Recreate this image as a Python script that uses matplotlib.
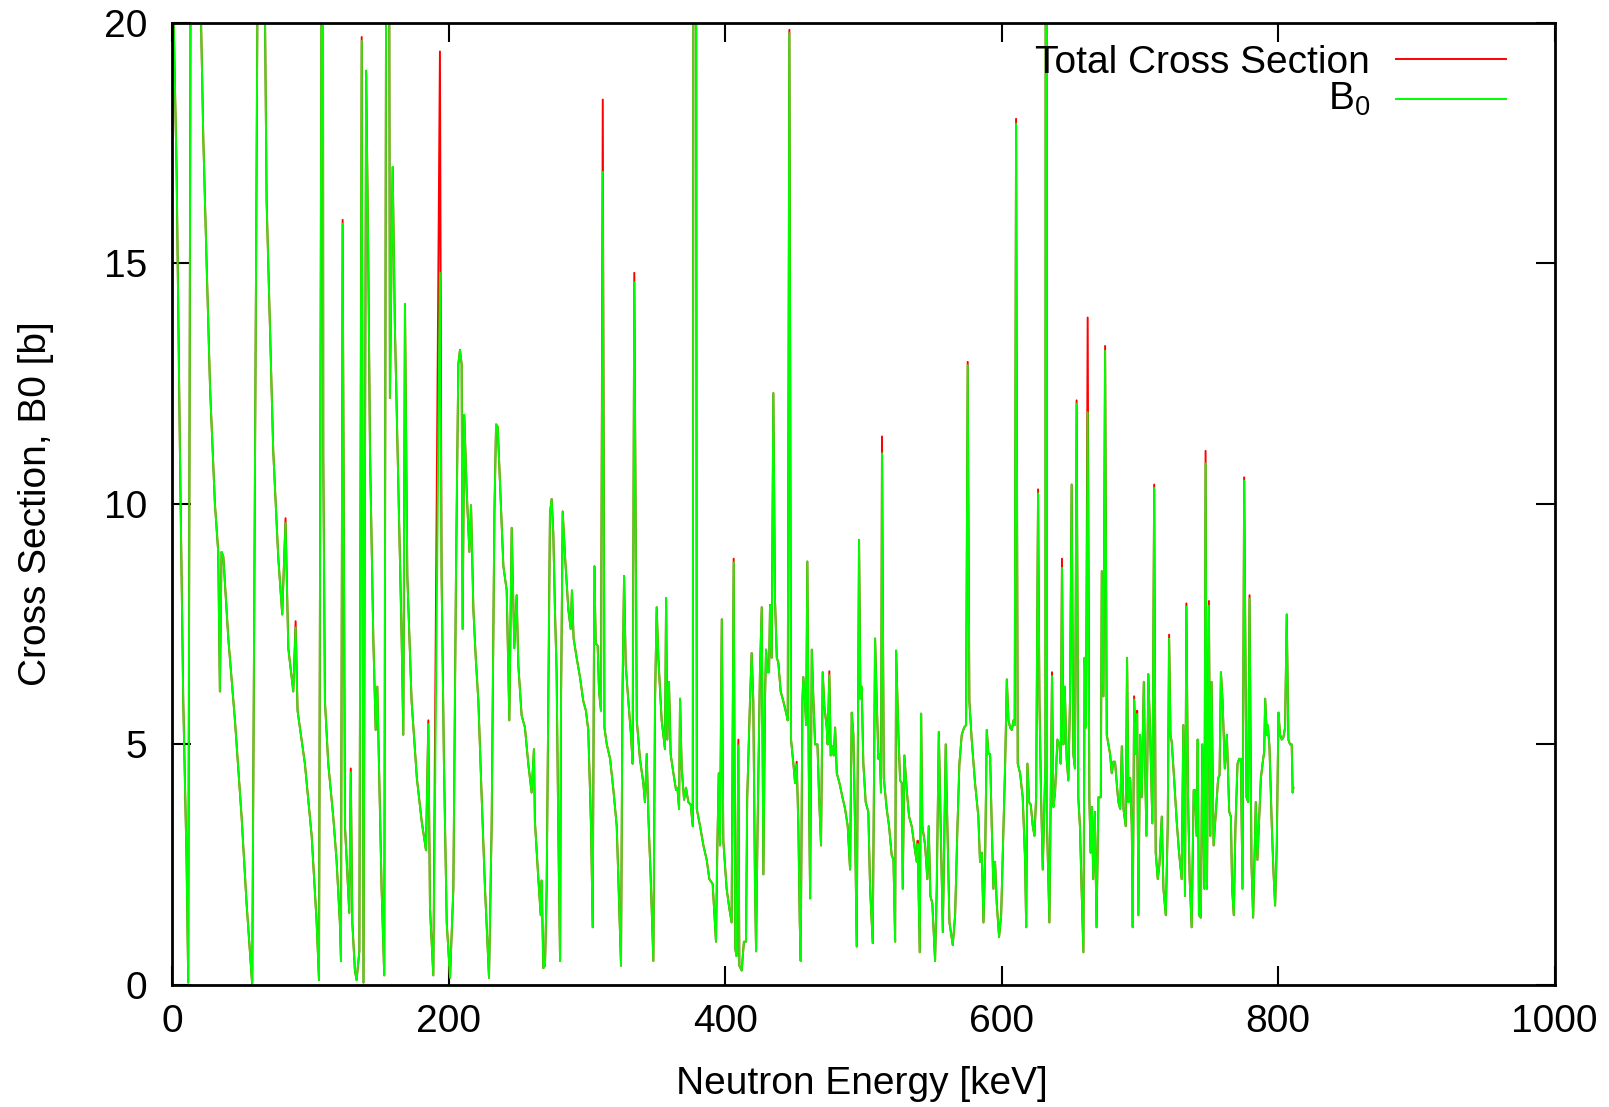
import numpy as np
import matplotlib
matplotlib.use("Agg")
import matplotlib.pyplot as plt

# energie [keV] et section efficace totale [b]
energy_kev = [
    0.2, 0.8, 3.1, 5.5, 7.9, 10.3, 11.5, 13.3, 16.0, 20.6, 22.4, 24.8, 27.3, 30.8, 33.2, 34.4, 35.6, 36.9,
    40.5, 45.3, 50.1, 53.7, 57.8, 61.6, 64.0, 67.0, 68.2, 70.6, 73.0, 76.6, 79.5, 81.9, 83.9, 87.5, 89.2,
    90.6, 95.9, 100.8, 104.4, 106.1, 107.9, 108.3, 109.2, 110.4, 112.8, 116.4, 118.8, 121.2, 122.0, 123.2,
    124.9, 128.0, 129.1, 130.2, 132.1, 133.3, 135.3, 137.0, 138.3, 140.2, 141.8, 143.0, 145.4, 147.1, 148.3,
    149.5, 151.4, 153.3, 155.9, 157.4, 159.4, 161.0, 163.5, 165.9, 167.1, 168.3, 170.0, 173.1, 176.9, 180.4,
    183.5, 185.2, 186.4, 188.8, 193.6, 194.8, 196.5, 198.5, 200.9, 203.3, 205.2, 206.9, 208.1, 209.3, 210.0,
    211.2, 212.9, 214.9, 216.1, 217.8, 219.5, 221.4, 223.8, 226.2, 229.1, 231.0, 233.0, 234.2, 235.4, 237.1,
    239.5, 241.9, 243.8, 245.5, 247.4, 249.1, 250.3, 252.7, 255.1, 257.5, 259.9, 261.6, 262.3, 264.8, 266.5,
    267.2, 268.4, 269.6, 270.8, 272.0, 273.2, 274.4, 275.6, 276.8, 278.0, 279.2, 280.5, 281.2, 282.4, 284.1,
    286.5, 288.2, 289.1, 290.3, 292.5, 294.9, 297.3, 299.2, 300.9, 302.9, 304.1, 305.3, 306.3, 307.7, 308.7,
    310.1, 311.4, 312.6, 314.3, 316.7, 319.1, 321.5, 323.2, 324.6, 325.6, 326.8, 328.0, 329.9, 331.8, 333.0,
    334.2, 336.0, 338.3, 340.7, 341.9, 343.2, 344.4, 346.1, 348.0, 349.2, 350.4, 351.6, 354.0, 356.4, 357.2,
    358.1, 359.3, 360.5, 362.5, 364.4, 365.4, 366.6, 367.3, 368.5, 370.2, 371.6, 373.3, 375.0, 376.5, 378.0,
    379.4, 381.8, 384.2, 386.6, 388.5, 390.9, 393.3, 394.3, 395.3, 396.2, 397.5, 398.6, 401.0, 402.9, 404.6,
    406.1, 407.3, 408.2, 409.5, 410.2, 411.9, 413.5, 415.0, 415.9, 417.9, 419.1, 420.3, 421.5, 422.3, 423.4,
    425.1, 426.4, 427.6, 428.8, 429.5, 430.5, 431.7, 432.4, 433.6, 434.8, 436.0, 437.3, 438.4, 440.1, 442.0,
    444.0, 445.2, 446.4, 447.6, 449.3, 450.5, 451.7, 452.9, 453.9, 454.6, 455.8, 456.5, 457.7, 458.5, 459.4,
    460.4, 461.4, 462.6, 463.8, 465.0, 466.7, 467.9, 469.3, 470.5, 471.7, 473.4, 474.1, 475.3, 476.3, 477.5,
    478.5, 479.5, 480.7, 482.6, 484.8, 486.7, 488.6, 490.3, 491.5, 492.7, 493.9, 495.1, 496.8, 497.8, 498.7,
    499.9, 501.6, 503.5, 504.8, 506.7, 507.7, 508.4, 509.6, 510.8, 511.8, 512.7, 513.4, 514.7, 516.8, 518.5,
    520.4, 521.7, 522.9, 523.6, 525.3, 526.5, 527.7, 528.4, 529.6, 531.3, 533.0, 534.9, 536.8, 538.5, 539.2,
    540.7, 541.7, 542.6, 544.6, 546.2, 547.2, 548.4, 549.8, 551.8, 553.0, 554.5, 555.9, 557.4, 559.5, 560.7,
    562.2, 564.6, 566.3, 568.0, 569.4, 571.1, 572.8, 574.2, 575.4, 576.6, 578.3, 580.7, 583.1, 584.3, 585.6,
    586.8, 588.0, 589.2, 590.4, 591.6, 592.8, 594.0, 595.2, 596.4, 598.1, 599.6, 601.3, 602.5, 603.7, 604.9,
    606.1, 607.3, 608.5, 609.4, 610.4, 611.6, 613.3, 615.2, 616.9, 617.7, 618.6, 619.8, 621.0, 622.5, 623.7,
    624.9, 626.3, 627.3, 628.5, 629.7, 631.6, 632.2, 632.8, 634.5, 635.7, 636.4, 637.4, 638.6, 640.3, 641.7,
    642.7, 643.6, 644.6, 645.6, 647.0, 648.2, 649.4, 650.6, 651.8, 653.0, 654.2, 655.4, 656.6, 657.8, 659.1,
    660.0, 661.0, 662.2, 663.4, 664.3, 665.3, 666.2, 667.4, 668.6, 670.0, 671.7, 672.4, 673.6, 674.8, 676.0,
    677.2, 678.4, 679.6, 680.8, 682.0, 683.2, 684.4, 685.7, 686.9, 688.1, 689.7, 690.7, 691.7, 692.9, 694.1,
    694.8, 695.8, 697.0, 698.0, 698.9, 700.1, 701.3, 702.8, 703.7, 704.7, 706.1, 707.4, 709.0, 710.3, 711.4,
    712.9, 714.1, 715.8, 717.0, 718.7, 720.1, 721.1, 722.1, 723.0, 724.7, 726.6, 728.3, 730.2, 731.4, 732.6,
    733.6, 734.8, 736.0, 737.4, 738.9, 739.8, 741.0, 741.8, 742.7, 744.1, 745.1, 746.6, 747.5, 748.5, 749.9,
    750.9, 751.8, 753.3, 754.7, 756.6, 757.6, 758.6, 759.8, 761.4, 762.9, 764.6, 765.8, 766.7, 767.9, 769.1,
    770.6, 771.8, 773.0, 774.2, 775.4, 777.1, 778.3, 779.3, 780.7, 781.9, 783.8, 785.0, 786.3, 787.5, 788.7,
    789.9, 790.6, 791.8, 792.5, 793.7, 795.4, 796.6, 797.8, 799.0, 800.2, 801.4, 802.6, 803.8, 805.0, 806.2,
    807.4, 808.6, 809.8, 810.5, 811.0,
]
total_xs = [
    40.0, 20.3, 16.9, 11.1, 5.9, 2.6, 0.05, 22.0, 80.0, 20.3, 17.6, 15.0, 12.4, 10.0, 9.0, 6.1, 9.0, 8.9,
    7.2, 5.5, 3.5, 1.7, 0.0, 20.5, 80.0, 20.3, 16.3, 13.7, 11.1, 8.9, 7.7, 9.7, 7.0, 6.1, 7.56,
    5.7, 4.6, 3.1, 1.3, 0.1, 20.5, 60.0, 11.0, 5.9, 4.6, 3.5, 2.6, 1.3, 0.5, 15.9,
    3.3, 1.5, 4.5, 1.3, 0.3, 0.1, 0.7, 19.7, 0.05, 19.0, 15.0, 11.1, 7.2, 5.3, 6.2,
    4.6, 2.0, 0.2, 40.0, 12.2, 17.0, 13.7, 10.4, 7.2, 5.2, 14.15, 8.5, 5.9, 4.3, 3.4,
    2.8, 5.5, 1.6, 0.2, 19.4, 8.5, 4.6, 1.3, 0.15, 2.0, 8.5, 12.9, 13.2, 12.9, 7.4,
    11.85, 10.3, 9.0, 9.97, 7.8, 6.8, 5.9, 3.9, 2.0, 0.15, 3.3, 9.8, 11.65, 11.6, 10.4,
    8.7, 8.2, 5.5, 9.5, 7.0, 8.1, 6.65, 5.6, 5.35, 4.6, 4.0, 4.9, 3.4, 2.2, 1.45,
    2.17, 0.35, 0.4, 2.0, 5.9, 9.8, 10.1, 9.4, 7.8, 6.5, 3.3, 0.5, 5.9, 9.84, 8.9,
    7.8, 7.4, 8.2, 7.2, 6.8, 6.4, 5.9, 5.7, 5.3, 3.3, 1.2, 8.7, 7.1, 7.05, 6.1,
    5.7, 18.4, 5.35, 5.0, 4.7, 4.05, 3.3, 1.7, 0.4, 5.9, 8.5, 6.65, 5.9, 5.2, 4.6,
    14.8, 5.5, 4.7, 4.2, 3.8, 4.8, 3.5, 2.2, 0.5, 5.9, 7.85, 6.8, 5.5, 4.9, 8.04,
    5.1, 6.3, 4.8, 4.4, 4.05, 4.1, 3.66, 5.95, 4.5, 3.85, 4.1, 3.8, 3.75, 3.3, 60.0,
    3.66, 3.3, 2.9, 2.6, 2.2, 2.1, 0.9, 2.9, 4.4, 2.9, 7.6, 3.0, 2.0, 1.6, 1.3,
    8.86, 0.74, 0.6, 5.1, 0.4, 0.3, 0.9, 0.9, 3.9, 5.9, 6.9, 5.9, 2.1, 0.7, 3.3,
    6.5, 7.85, 2.3, 6.0, 6.97, 6.5, 6.5, 7.9, 6.8, 12.3, 8.0, 6.8, 6.7, 6.1, 5.9,
    5.66, 5.5, 19.85, 5.1, 4.6, 4.2, 4.64, 3.3, 1.3, 0.5, 5.9, 6.4, 5.9, 5.4, 8.8,
    4.6, 1.8, 6.97, 5.9, 5.0, 5.0, 3.9, 2.9, 6.5, 5.8, 5.35, 5.0, 6.52, 4.77, 4.96,
    4.77, 5.35, 4.4, 4.2, 3.9, 3.66, 3.3, 2.4, 5.66, 5.2, 3.3, 0.8, 9.25, 5.95, 6.2,
    4.6, 3.8, 3.6, 2.0, 0.87, 4.6, 7.2, 5.9, 4.7, 4.8, 4.0, 11.4, 4.3, 3.66, 3.3,
    2.7, 2.6, 0.9, 6.95, 5.2, 4.25, 4.2, 2.0, 4.77, 4.05, 3.5, 3.3, 2.9, 2.56, 3.0,
    0.68, 5.64, 3.3, 2.9, 2.2, 3.3, 1.85, 1.7, 0.5, 2.0, 5.26, 3.3, 1.1, 5.0, 3.3,
    1.3, 0.83, 1.45, 3.3, 4.6, 5.2, 5.35, 5.4, 12.95, 5.9, 5.1, 4.2, 3.5, 2.56, 2.75,
    1.3, 2.6, 5.3, 4.8, 4.8, 3.3, 2.0, 2.56, 1.7, 1.0, 1.45, 3.3, 4.6, 6.35, 5.5,
    5.35, 5.3, 5.5, 5.4, 18.0, 4.6, 4.4, 3.9, 2.6, 1.2, 4.6, 3.8, 3.75, 3.3, 3.1,
    3.9, 10.3, 5.9, 3.9, 2.4, 4.6, 60.0, 3.3, 1.3, 4.6, 6.5, 3.7, 4.0, 5.1, 5.0,
    4.6, 8.86, 5.0, 6.2, 4.7, 4.25, 5.9, 10.4, 4.8, 4.5, 12.15, 3.9, 3.3, 2.0, 0.68,
    6.8, 5.35, 13.87, 3.9, 2.75, 3.7, 2.2, 3.6, 1.2, 3.9, 3.9, 8.6, 6.0, 13.28, 5.2,
    5.0, 4.8, 4.4, 4.64, 4.64, 4.2, 3.8, 3.66, 4.96, 3.66, 3.3, 6.8, 3.8, 4.3, 3.3,
    1.2, 6.0, 4.8, 5.7, 1.45, 5.2, 3.9, 6.3, 4.6, 3.1, 6.46, 5.2, 3.36, 10.4, 2.75,
    2.2, 2.5, 3.5, 2.0, 1.45, 3.3, 7.28, 5.2, 5.05, 4.3, 3.4, 2.75, 2.2, 5.4, 1.85,
    7.93, 3.9, 2.2, 1.2, 4.05, 4.05, 3.1, 5.1, 1.45, 1.4, 5.0, 2.0, 11.1, 2.0, 7.98,
    3.1, 6.3, 2.9, 3.5, 4.3, 4.36, 6.5, 5.9, 4.5, 5.2, 3.6, 3.5, 2.0, 1.45, 3.3,
    4.6, 4.7, 4.7, 2.0, 10.55, 3.9, 3.8, 8.1, 2.5, 1.4, 3.8, 2.6, 3.5, 4.3, 4.6,
    4.85, 5.95, 5.2, 5.4, 4.96, 3.3, 2.36, 1.65, 2.9, 5.66, 5.2, 5.1, 5.15, 5.35, 7.7,
    5.1, 5.0, 5.0, 4.0, 4.1,
]

# B0 suit la section totale sauf au sommet de certaines resonances
b0_peak_energy = [81.9, 89.2, 123.2, 129.1, 137.0, 185.2, 193.6, 311.4, 334.2, 406.1, 409.5, 446.4,
                  451.7, 475.3, 513.4, 539.2, 575.4, 610.4, 626.3, 636.4, 643.6, 654.2, 662.2, 674.8,
                  695.8, 698.0, 710.3, 721.1, 733.6, 747.5, 749.9, 775.4, 779.3]
b0_peak_value = [9.6, 7.43, 15.82, 4.42, 19.62, 5.42, 14.8, 16.9, 14.6, 8.78, 4.98, 19.78,
                 4.58, 6.44, 11.05, 2.93, 12.88, 17.9, 10.22, 6.42, 8.67, 12.08, 11.9, 13.18,
                 5.93, 5.63, 10.33, 7.2, 7.86, 10.84, 7.88, 10.48, 8.03]

b0 = list(total_xs)
for e, v in zip(b0_peak_energy, b0_peak_value):
    b0[energy_kev.index(e)] = v

plt.rcParams['font.family'] = ['Liberation Sans', 'DejaVu Sans']
plt.rcParams['mathtext.fontset'] = 'custom'
plt.rcParams['mathtext.rm'] = 'Liberation Sans'
plt.rcParams['mathtext.it'] = 'Liberation Sans'

fig = plt.figure(figsize=(16.09, 11.07), dpi=100)
ax = fig.add_axes([0.1071, 0.1102, 0.8591, 0.8694])

ax.plot(energy_kev, total_xs, color='#ff0000', lw=1.4)
ax.plot(energy_kev, b0, color='#00ff00', lw=1.4)

ax.set_xlim(0, 1000)
ax.set_ylim(0, 20)
ax.set_xticks(np.arange(0, 1001, 200))
ax.set_yticks(np.arange(0, 21, 5))
ax.tick_params(direction='in', length=14, width=1.5, top=True, right=True, labelsize=28)
ax.tick_params(axis='x', pad=14)
ax.tick_params(axis='y', pad=18)
for s in ax.spines.values():
    s.set_linewidth(2)

fig.text(0.5354, 0.021, 'Neutron Energy [keV]', fontsize=28, ha='center', va='center')
fig.text(0.0225, 0.5447, 'Cross Section, B0 [b]', fontsize=28, ha='center', va='center', rotation=90)

# legende facon gnuplot : texte aligne a droite, trait a droite
ax.text(0.8664, 0.9473, 'Total Cross Section', transform=ax.transAxes, fontsize=28, ha='right', va='baseline')
ax.plot([0.8849, 0.9648], [0.9617, 0.9617], transform=ax.transAxes, color='#ff0000', lw=1.4)
ax.text(0.8664, 0.9092, 'B$_0$', transform=ax.transAxes, fontsize=28, ha='right', va='baseline')
ax.plot([0.8849, 0.9648], [0.9201, 0.9201], transform=ax.transAxes, color='#00ff00', lw=1.4)

fig.savefig('out.png', dpi=100)
